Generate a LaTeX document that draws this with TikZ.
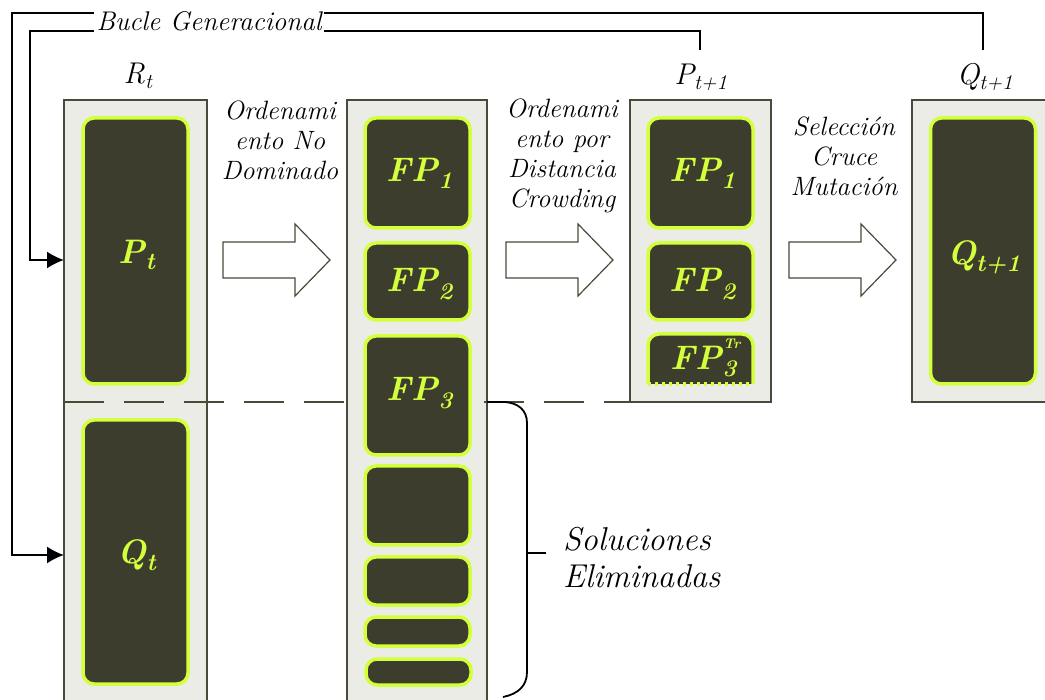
\documentclass[tikz,border=0pt]{standalone}
\usetikzlibrary{arrows.meta}
\definecolor{dark}{HTML}{3D3D2D}
\definecolor{lime}{HTML}{D4FF3C}
\definecolor{panel}{HTML}{ECECE7}
\definecolor{edge}{HTML}{4A4A3A}
\newcommand\subtxt[2]{#1\textsubscript{#2}}
\begin{document}
\begin{tikzpicture}[x=1pt,y=-1pt,
  panelbox/.style={draw=edge, fill=panel, line width=2pt},
  popbox/.style={draw=lime, fill=dark, line width=3.5pt, rounded corners=11pt, inner sep=0pt, minimum width=105pt},
  poplabel/.style={text=lime, inner sep=0pt, font=\fontsize{34}{38}\selectfont\bfseries\itshape},
  steplabel/.style={align=center, inner sep=0pt, font=\fontsize{26.5}{30}\selectfont\itshape},
  setlabel/.style={inner sep=0pt, font=\fontsize{30}{32}\selectfont\itshape},
  blockarrow/.style={draw=edge, fill=white, line width=1.2pt},
  loopline/.style={draw=black, line width=1.8pt},
  looparrow/.style={loopline, -{Latex[length=17pt,width=17pt]}},
  cutline/.style={draw=edge, line width=2pt, dash pattern=on 40pt off 20pt}
]
\useasboundingbox (0,0) rectangle (1045,700);

% panels
\path[panelbox] (64,100) rectangle (207,720);
\path[panelbox] (347,100) rectangle (487,720);
\path[panelbox] (630,100) rectangle (771,402);
\path[panelbox] (912,100) rectangle (1060,402);

% cut line
\draw[cutline] (64,402) -- (630,402);

% population boxes
\node[popbox, minimum height=266pt] (Pt) at (135.5,251) {};
\node[poplabel] at (137,255) {\subtxt{P}{t}};
\node[popbox, minimum height=264pt] (Qt) at (135.5,552) {};
\node[poplabel] at (137,555) {\subtxt{Q}{t}};

\node[popbox, minimum height=110pt] (F1) at (417.5,173) {};
\node[poplabel] at (420,173) {\subtxt{FP}{1}};
\node[popbox, minimum height=77pt] (F2) at (417.5,281.5) {};
\node[poplabel] at (420,284) {\subtxt{FP}{2}};
\node[popbox, minimum height=119pt] (F3) at (417.5,395.5) {};
\node[poplabel] at (420,393) {\subtxt{FP}{3}};
\node[popbox, minimum height=79pt] (F4) at (417.5,505.5) {};
\node[popbox, minimum height=48pt] (F5) at (417.5,581) {};
\node[popbox, minimum height=29pt] (F6) at (417.5,631.5) {};
\node[popbox, minimum height=26pt] (F7) at (418.5,672) {};

\node[popbox, minimum height=110pt] (G1) at (700.5,173) {};
\node[poplabel] at (703,173) {\subtxt{FP}{1}};
\node[popbox, minimum height=77pt] (G2) at (700.5,281.5) {};
\node[poplabel] at (703,284) {\subtxt{FP}{2}};
\path[fill=dark] (648,384) {[rounded corners=11pt] -- (648,334) -- (753,334)} -- (753,384) -- cycle;
\draw[lime, line width=3.5pt] (648,384) {[rounded corners=11pt] -- (648,334) -- (753,334)} -- (753,384);
\draw[lime, line width=3.5pt, dash pattern=on 3pt off 4pt] (648,384) -- (753,384);
\node[poplabel] (G3) at (704,358) {FP\rlap{\raisebox{0.62em}{\kern1pt\fontsize{14}{15}\selectfont Tr}}\textsubscript{3}};

\node[popbox, minimum height=266pt] (Qn) at (983,251) {};
\node[poplabel] at (984,257) {\subtxt{Q}{t+1}};

% set labels
\node[setlabel] (Rlab) at (138,76) {\subtxt{R}{t}};
\node[setlabel] (Plab) at (701,77) {\subtxt{P}{t+1}};
\node[setlabel] (Qlab) at (985,77) {\subtxt{Q}{t+1}};

% step labels
\node[steplabel] (s1) at (280,140) {Ordenami\\ento No\\Dominado};
\node[steplabel] (s2) at (562,156) {Ordenami\\ento por\\Distancia\\Crowding};
\node[steplabel] (s3) at (844,156) {Selección\\Cruce\\Mutación};

% block arrows
\draw[blockarrow] (223,242) -- (295,242) -- (295,224) -- (330,260) -- (295,296) -- (295,278) -- (223,278) -- cycle;
\draw[blockarrow] (506,242) -- (578,242) -- (578,224) -- (613,260) -- (578,296) -- (578,278) -- (506,278) -- cycle;
\draw[blockarrow] (789,242) -- (861,242) -- (861,224) -- (896,260) -- (861,296) -- (861,278) -- (789,278) -- cycle;

% generational loop
\coordinate (qtop) at (983,50);
\coordinate (ptop) at (700,50);
\coordinate (qin) at (64,555);
\coordinate (pin) at (64,260);
\draw[looparrow] (qtop) -- (983,13) -- (12,13) -- (12,555) -- (qin);
\draw[looparrow] (ptop) -- (700,31) -- (30,31) -- (30,260) -- (pin);
\node[fill=white, inner xsep=3pt, minimum height=30pt, font=\fontsize{27}{30}\selectfont\itshape] (loop) at (209,21) {Bucle Generacional};

% brace
\coordinate (b1) at (487,402);
\draw[black, line width=1.8pt] (b1) -- (505,402) .. controls (518,403) and (527,410) .. (527,423) -- (527,672) .. controls (527,686) and (518,694) .. (503,697);
\draw[black, line width=1.8pt] (527,553) -- (546,553);
\node[anchor=west, align=left, inner sep=0pt, font=\fontsize{33}{37}\selectfont\itshape] (elim) at (563,558) {Soluciones\\Eliminadas};
\end{tikzpicture}
\end{document}
